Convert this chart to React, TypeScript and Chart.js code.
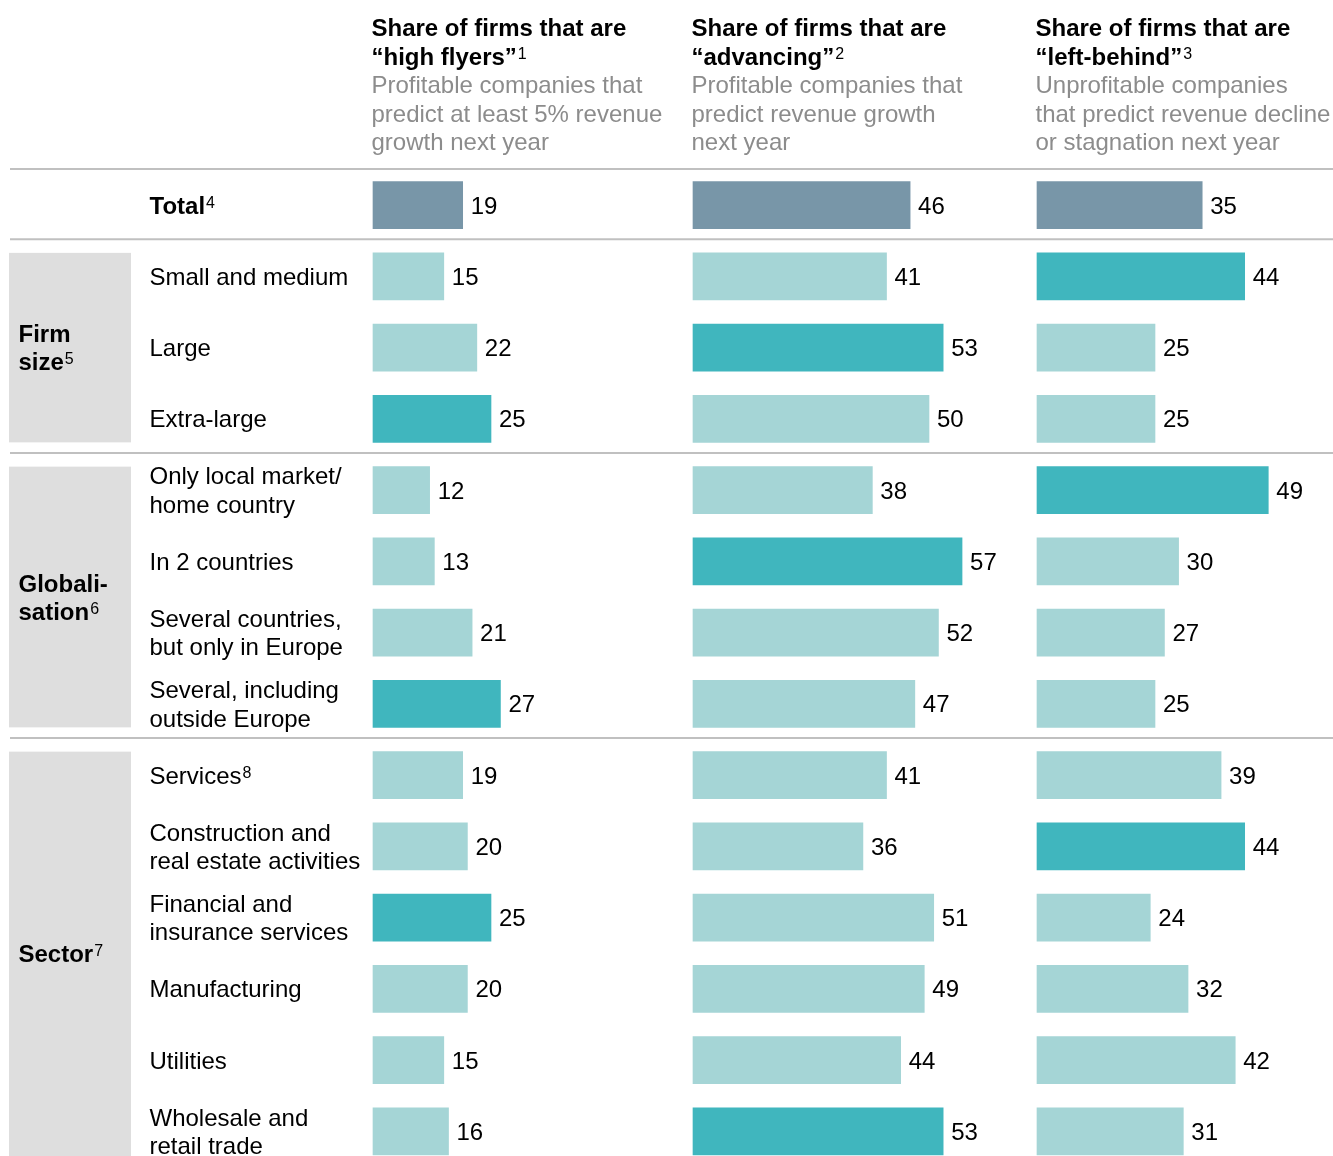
import React, { useEffect, useRef } from "react";
import { Chart, registerables } from "chart.js";

Chart.register(...registerables);

// ---------- Data ----------
const rowLabels: string[][] = [
  ["Total"],
  ["Small and medium"],
  ["Large"],
  ["Extra-large"],
  ["Only local market/", "home country"],
  ["In 2 countries"],
  ["Several countries,", "but only in Europe"],
  ["Several, including", "outside Europe"],
  ["Services"],
  ["Construction and", "real estate activities"],
  ["Financial and", "insurance services"],
  ["Manufacturing"],
  ["Utilities"],
  ["Wholesale and", "retail trade"],
];
const rowSups: string[] = ["4", "", "", "", "", "", "", "", "8", "", "", "", "", ""];

const highFlyers: number[] = [19, 15, 22, 25, 12, 13, 21, 27, 19, 20, 25, 20, 15, 16];
const advancing: number[] = [46, 41, 53, 50, 38, 57, 52, 47, 41, 36, 51, 49, 44, 53];
const leftBehind: number[] = [35, 44, 25, 25, 49, 30, 27, 25, 39, 44, 24, 32, 42, 31];

const columnTitles: string[][] = [
  ["Share of firms that are", "\u201Chigh flyers\u201D"],
  ["Share of firms that are", "\u201Cadvancing\u201D"],
  ["Share of firms that are", "\u201Cleft-behind\u201D"],
];
const columnSups: string[] = ["1", "2", "3"];
const columnSubtitles: string[][] = [
  ["Profitable companies that", "predict at least 5% revenue", "growth next year"],
  ["Profitable companies that", "predict revenue growth", "next year"],
  ["Unprofitable companies", "that predict revenue decline", "or stagnation next year"],
];

const groupNames: string[][] = [["Firm", "size"], ["Globali-", "sation"], ["Sector"]];
const groupSups: string[] = ["5", "6", "7"];
const groupFirstRow: number[] = [1, 4, 8];
const groupLastRow: number[] = [3, 7, 13];

// ---------- Styles / layout ----------
const FONT = '"Liberation Sans", Arial, Helvetica, sans-serif';
const COLOR_TOTAL = "#7896a8";
const COLOR_LIGHT = "#a5d5d6";
const COLOR_HIGH = "#40b6be";
const COLOR_BOX = "#dedede";
const COLOR_RULE = "#c0c0c0";
const COLOR_SUB = "#8c8c8c";
const CANVAS_W = 1333;
const CANVAS_H = 1167;
const COL_START = [373, 693, 1037];
const PX_PER_UNIT = 4.72;
const BAR_THICK = 47;

const series = [highFlyers, advancing, leftBehind];

function barColors(values: number[]): string[] {
  const colors = values.map((_, i) => (i === 0 ? COLOR_TOTAL : COLOR_LIGHT));
  groupFirstRow.forEach((from, g) => {
    const to = groupLastRow[g];
    let best = from;
    for (let i = from; i <= to; i++) if (values[i] > values[best]) best = i;
    colors[best] = COLOR_HIGH;
  });
  return colors;
}

function drawWithSup(
  ctx: CanvasRenderingContext2D,
  text: string,
  sup: string,
  x: number,
  y: number,
  weight: number,
  color: string
) {
  ctx.font = `${weight} 24px ${FONT}`;
  ctx.fillStyle = color;
  ctx.fillText(text, x, y);
  if (sup) {
    const w = ctx.measureText(text).width;
    ctx.font = `400 16px ${FONT}`;
    ctx.fillText(sup, x + w + 1, y - 6);
  }
}

const tablePlugin = {
  id: "tableDecor",
  beforeDatasetsDraw(chart: any) {
    const ctx: CanvasRenderingContext2D = chart.ctx;
    const yScale = chart.scales.y;
    const step = yScale.getPixelForValue(1) - yScale.getPixelForValue(0);
    ctx.save();
    // grey group boxes
    ctx.fillStyle = COLOR_BOX;
    groupFirstRow.forEach((from, g) => {
      const top = yScale.getPixelForValue(from) - BAR_THICK / 2;
      const bottom =
        g === groupFirstRow.length - 1
          ? chart.height
          : yScale.getPixelForValue(groupLastRow[g]) + BAR_THICK / 2;
      ctx.fillRect(9, top, 122, bottom - top);
    });
    // rules
    ctx.strokeStyle = COLOR_RULE;
    ctx.lineWidth = 2;
    const ruleYs = [chart.chartArea.top - 0.5];
    groupFirstRow.forEach((from) => {
      ruleYs.push(yScale.getPixelForValue(from) - step / 2 - 1.5);
    });
    ruleYs.forEach((y) => {
      ctx.beginPath();
      ctx.moveTo(10, y);
      ctx.lineTo(CANVAS_W, y);
      ctx.stroke();
    });
    ctx.restore();
  },
  afterDatasetsDraw(chart: any) {
    const ctx: CanvasRenderingContext2D = chart.ctx;
    const yScale = chart.scales.y;
    ctx.save();
    ctx.textBaseline = "alphabetic";
    ctx.textAlign = "left";
    const LINE = 28.5;
    const CAP_HALF = 8.6;

    // column headers
    COL_START.forEach((x0, k) => {
      const tx = x0 - 1.5;
      columnTitles[k].forEach((line, j) => {
        const sup = j === columnTitles[k].length - 1 ? columnSups[k] : "";
        drawWithSup(ctx, line, sup, tx, 36 + j * LINE, 700, "#000");
      });
      columnSubtitles[k].forEach((line, j) => {
        drawWithSup(ctx, line, "", tx, 36 + (j + 2) * LINE, 400, COLOR_SUB);
      });
    });

    // row labels
    rowLabels.forEach((lines, i) => {
      const c = yScale.getPixelForValue(i);
      const n = lines.length;
      lines.forEach((line, j) => {
        const y = c + (j - (n - 1) / 2) * LINE + CAP_HALF;
        const sup = j === n - 1 ? rowSups[i] : "";
        drawWithSup(ctx, line, sup, 149.5, y, i === 0 ? 700 : 400, "#000");
      });
    });

    // group labels
    groupNames.forEach((lines, g) => {
      const top = yScale.getPixelForValue(groupFirstRow[g]) - BAR_THICK / 2;
      const bottom = yScale.getPixelForValue(groupLastRow[g]) + BAR_THICK / 2;
      const c = (top + bottom) / 2;
      const n = lines.length;
      lines.forEach((line, j) => {
        const y = c + (j - (n - 1) / 2) * 28 + CAP_HALF;
        const sup = j === n - 1 ? groupSups[g] : "";
        drawWithSup(ctx, line, sup, 18.5, y, 700, "#000");
      });
    });

    // value labels
    series.forEach((values, k) => {
      const meta = chart.getDatasetMeta(k);
      meta.data.forEach((bar: any, i: number) => {
        ctx.font = `400 24px ${FONT}`;
        ctx.fillStyle = "#000";
        ctx.fillText(String(values[i]), bar.x + 8, bar.y + CAP_HALF);
      });
    });
    ctx.restore();
  },
};

export default function App() {
  const canvasRef = useRef<HTMLCanvasElement | null>(null);

  useEffect(() => {
    const canvas = canvasRef.current;
    if (!canvas) return;
    const scales: any = {
      y: { type: "category", display: false, offset: true },
    };
    COL_START.forEach((x0, k) => {
      scales["x" + k] = {
        type: "linear",
        axis: "x",
        display: false,
        min: -x0 / PX_PER_UNIT,
        max: (CANVAS_W - x0) / PX_PER_UNIT,
      };
    });
    const chart = new Chart(canvas, {
      type: "bar",
      data: {
        labels: rowLabels.map((l) => l.join(" ")),
        datasets: series.map((values, k) => ({
          label: columnTitles[k][1],
          data: values,
          xAxisID: "x" + k,
          backgroundColor: barColors(values),
          borderWidth: 0,
          barThickness: BAR_THICK,
          grouped: false,
        })),
      },
      options: {
        indexAxis: "y",
        responsive: false,
        maintainAspectRatio: false,
        animation: false,
        events: [],
        layout: { padding: { top: 169.5, left: 0, right: 0, bottom: 0 } },
        plugins: {
          legend: { display: false },
          tooltip: { enabled: false },
        },
        scales,
      },
      plugins: [tablePlugin],
    } as any);
    return () => chart.destroy();
  }, []);

  return (
    <div
      style={{
        position: "absolute",
        left: 0,
        top: 0,
        width: CANVAS_W,
        height: 1156,
        overflow: "hidden",
        background: "#fff",
      }}
    >
      <canvas
        ref={canvasRef}
        width={CANVAS_W}
        height={CANVAS_H}
        style={{ display: "block", width: CANVAS_W, height: CANVAS_H }}
      />
    </div>
  );
}
